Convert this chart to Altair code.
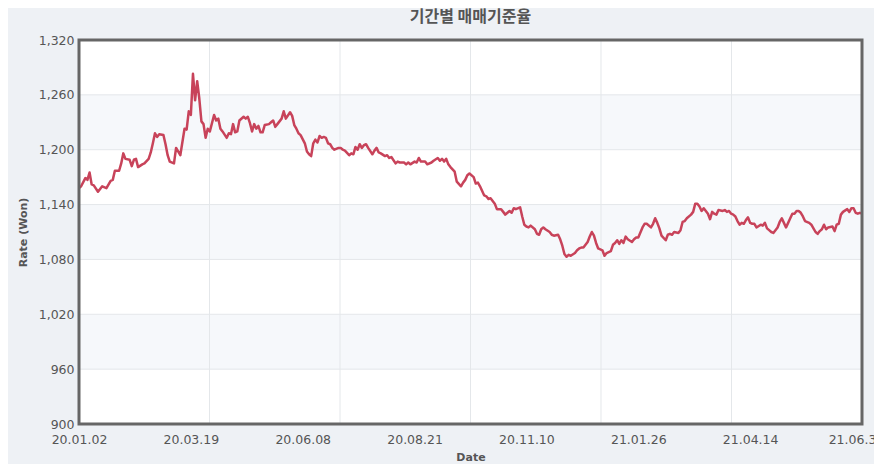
import altair as alt
import pandas as pd

# trading-day index (0 = 20.01.02, 371 = 21.06.30) and rate in Won
day_idx = [0, 1, 3, 4, 5, 6, 7, 9, 11, 13, 15, 16, 17, 19, 20, 21, 22, 24, 25, 26,
           27, 28, 30, 31, 33, 34, 35, 36, 37, 38, 40, 41, 42, 43, 45, 46, 48, 50, 51, 52,
           53, 54, 55, 56, 57, 58, 59, 60, 61, 62, 64, 65, 66, 67, 68, 70, 71, 72, 73, 74,
           75, 76, 78, 79, 80, 81, 82, 83, 84, 85, 86, 87, 88, 90, 91, 92, 93, 94, 96, 97,
           98, 100, 101, 102, 103, 104, 105, 107, 108, 109, 110, 111, 112, 113, 114, 115, 116, 117, 118, 119,
           120, 121, 123, 124, 125, 126, 128, 129, 130, 131, 132, 133, 134, 135, 136, 137, 139, 140, 141, 142,
           143, 145, 146, 147, 148, 150, 151, 152, 154, 155, 156, 157, 159, 160, 161, 162, 164, 165, 167, 168,
           170, 171, 172, 173, 174, 175, 176, 178, 179, 181, 182, 183, 184, 185, 187, 188, 189, 190, 192, 193,
           194, 195, 196, 197, 198, 200, 201, 202, 203, 204, 205, 206, 207, 209, 210, 211, 212, 213, 214, 216,
           217, 218, 219, 220, 221, 223, 224, 225, 227, 228, 229, 230, 231, 232, 233, 235, 236, 237, 238, 239,
           241, 242, 243, 244, 245, 246, 248, 249, 250, 252, 253, 254, 255, 256, 257, 258, 259, 260, 262, 263,
           264, 265, 267, 268, 269, 271, 272, 273, 274, 275, 276, 278, 279, 280, 281, 282, 284, 285, 286, 287,
           288, 290, 291, 292, 293, 294, 295, 296, 297, 298, 299, 300, 301, 302, 303, 305, 306, 307, 308, 309,
           310, 311, 312, 313, 314, 315, 316, 317, 318, 319, 320, 321, 323, 324, 325, 326, 327, 328, 329, 331,
           332, 333, 334, 335, 336, 337, 338, 339, 340, 341, 342, 343, 344, 346, 347, 348, 349, 350, 351, 352,
           353, 354, 355, 357, 358, 359, 360, 361, 362, 364, 365, 366, 367, 368, 369, 370, 371]

rate = [1158, 1160, 1169, 1167, 1175, 1162, 1161, 1154, 1160, 1158, 1166, 1167, 1177, 1177, 1185, 1196, 1190, 1189, 1182, 1189,
        1190, 1181, 1184, 1185, 1190, 1197, 1207, 1218, 1214, 1217, 1216, 1206, 1194, 1187, 1185, 1202, 1194, 1223, 1222, 1242,
        1238, 1283, 1254, 1275, 1256, 1231, 1228, 1213, 1223, 1220, 1238, 1232, 1234, 1223, 1220, 1213, 1218, 1217, 1228, 1219,
        1220, 1232, 1236, 1234, 1236, 1229, 1220, 1228, 1223, 1226, 1219, 1219, 1227, 1228, 1230, 1232, 1225, 1228, 1234, 1242,
        1234, 1241, 1237, 1227, 1223, 1218, 1216, 1207, 1198, 1195, 1193, 1207, 1211, 1208, 1215, 1213, 1214, 1213, 1207, 1206,
        1202, 1200, 1202, 1202, 1200, 1199, 1194, 1196, 1195, 1203, 1200, 1206, 1202, 1205, 1206, 1202, 1195, 1199, 1202, 1197,
        1196, 1193, 1194, 1191, 1192, 1185, 1187, 1186, 1186, 1184, 1186, 1184, 1187, 1186, 1191, 1187, 1187, 1184, 1186, 1188,
        1191, 1188, 1190, 1187, 1190, 1184, 1181, 1176, 1165, 1160, 1164, 1167, 1172, 1174, 1170, 1163, 1164, 1160, 1150, 1149,
        1146, 1147, 1144, 1141, 1135, 1135, 1132, 1129, 1131, 1133, 1131, 1136, 1135, 1137, 1127, 1118, 1116, 1115, 1117, 1113,
        1108, 1107, 1113, 1115, 1113, 1110, 1107, 1106, 1107, 1102, 1095, 1086, 1083, 1085, 1084, 1087, 1090, 1092, 1093, 1093,
        1099, 1105, 1110, 1106, 1098, 1092, 1090, 1084, 1087, 1089, 1096, 1098, 1101, 1097, 1101, 1098, 1105, 1102, 1099, 1102,
        1104, 1104, 1115, 1119, 1119, 1115, 1119, 1125, 1120, 1114, 1106, 1101, 1107, 1108, 1107, 1110, 1109, 1112, 1121, 1122,
        1125, 1129, 1132, 1141, 1141, 1138, 1133, 1136, 1133, 1130, 1124, 1132, 1130, 1129, 1134, 1133, 1134, 1132, 1133, 1130,
        1129, 1127, 1122, 1118, 1120, 1119, 1123, 1126, 1120, 1119, 1119, 1115, 1118, 1117, 1120, 1114, 1112, 1110, 1109, 1115,
        1121, 1125, 1120, 1115, 1120, 1125, 1130, 1130, 1133, 1133, 1131, 1127, 1122, 1120, 1118, 1114, 1110, 1108, 1111, 1113,
        1118, 1113, 1115, 1116, 1111, 1118, 1119, 1129, 1132, 1135, 1132, 1136, 1136, 1131, 1130, 1131, 1130]

x_labels = ["20.01.02", "20.03.19", "20.06.08", "20.08.21", "20.11.10", "21.01.26", "21.04.14", "21.06.30"]
label_step = 53
y_ticks = [900, 960, 1020, 1080, 1140, 1200, 1260, 1320]
band_lo = [960, 1080, 1200]
band_hi = [1020, 1140, 1260]

last = day_idx[-1]
label_vals = [i * label_step for i in range(len(x_labels))]
vgrid_vals = [round(i * last / 6, 2) for i in range(1, 6)]

df = pd.DataFrame({"idx": day_idx, "rate": rate})
bands = pd.DataFrame({"lo": band_lo, "hi": band_hi, "x0": [0] * 3, "x1": [last] * 3})
hgrid = pd.DataFrame({"y": y_ticks[1:-1]})
vgrid = pd.DataFrame({"x": vgrid_vals})
frame = pd.DataFrame({"x0": [0], "x1": [last], "y0": [y_ticks[0]], "y1": [y_ticks[-1]]})

label_expr = "[" + ",".join("'%s'" % s for s in x_labels) + "][round(datum.value / %d)]" % label_step

FONT = "DejaVu Sans"
GREY = "#555555"

xscale = alt.Scale(domain=[0, last], nice=False, zero=False)
yscale = alt.Scale(domain=[900, 1320], nice=False, zero=False)

band_layer = alt.Chart(bands).mark_rect(color="#f6f8fb").encode(
    x=alt.X("x0:Q", scale=xscale),
    x2="x1:Q",
    y=alt.Y("lo:Q", scale=yscale),
    y2="hi:Q",
)

hgrid_layer = alt.Chart(hgrid).mark_rule(color="#e4e7ea", strokeWidth=1).encode(
    y=alt.Y("y:Q", scale=yscale)
)

vgrid_layer = alt.Chart(vgrid).mark_rule(color="#e4e7ea", strokeWidth=1).encode(
    x=alt.X("x:Q", scale=xscale)
)

line_layer = alt.Chart(df).mark_line(color="#c8435a", strokeWidth=2.5, strokeJoin="round").encode(
    x=alt.X(
        "idx:Q",
        scale=xscale,
        title="Date",
        axis=alt.Axis(
            values=label_vals,
            labelExpr=label_expr,
            grid=False,
            ticks=False,
            domain=False,
            labelFlush=False,
            labelOverlap=False,
            labelPadding=9,
            labelFont=FONT,
            labelFontSize=12.5,
            labelColor=GREY,
            labelOffset={"condition": {"test": "datum.value == %d" % last, "value": -6}, "value": 0},
            titleFont=FONT,
            titleFontSize=11,
            titleFontWeight="bold",
            titleColor=GREY,
            titlePadding=6,
        ),
    ),
    y=alt.Y(
        "rate:Q",
        scale=yscale,
        title="Rate (Won)",
        axis=alt.Axis(
            values=y_ticks,
            format=",d",
            grid=False,
            ticks=False,
            domain=False,
            labelPadding=5,
            labelFont=FONT,
            labelFontSize=12.5,
            labelColor=GREY,
            titleFont=FONT,
            titleFontSize=11,
            titleFontWeight="bold",
            titleColor=GREY,
            titlePadding=10,
        ),
    ),
)

frame_layer = alt.Chart(frame).mark_rect(fillOpacity=0, stroke="#666666", strokeWidth=3).encode(
    x=alt.X("x0:Q", scale=xscale),
    x2="x1:Q",
    y=alt.Y("y0:Q", scale=yscale),
    y2="y1:Q",
)

chart = (
    alt.layer(band_layer, hgrid_layer, vgrid_layer, line_layer, frame_layer)
    .properties(
        width=783,
        height=384,
        title=alt.TitleParams(
            "기간별 매매기준율",
            font="Noto Sans CJK KR",
            fontSize=16,
            fontWeight="bold",
            color=GREY,
            anchor="middle",
            offset=9,
        ),
        autosize=alt.AutoSizeParams(type="none"),
        padding={"left": 71, "top": 32, "right": 12, "bottom": 40},
        background="#eef1f5",
    )
    .configure_view(stroke=None, fill="white")
)

chart.save("out.html", embed_options={"renderer": "svg", "actions": False})
